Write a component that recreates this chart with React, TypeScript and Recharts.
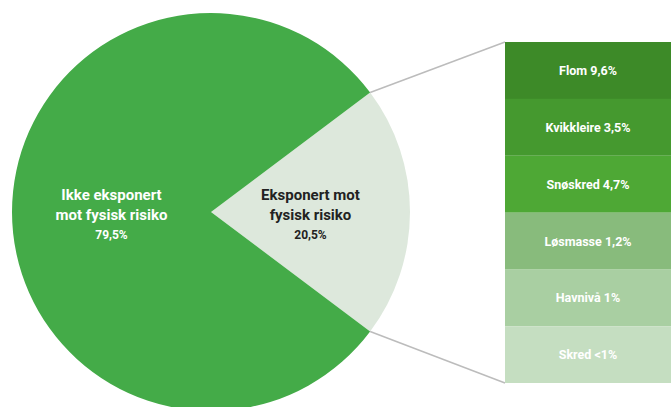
import { Bar, BarChart, Cell, LabelList, Pie, PieChart, XAxis, YAxis } from "recharts"

// pie: share of exposure
const sliceLines = [
  ["Eksponert mot", "fysisk risiko"],
  ["Ikke eksponert", "mot fysisk risiko"],
]
const sliceShares = [20.5, 79.5]
const sliceShareText = ["20,5%", "79,5%"]
const sliceColors = ["#dde8dc", "#44ab48"]
const sliceTextColors = ["#222222", "#ffffff"]

// breakdown of the exposed part (drawn as equal rows)
const hazards = ["Flom", "Kvikkleire", "Snøskred", "Løsmasse", "Havnivå", "Skred"]
const hazardShareText = ["9,6%", "3,5%", "4,7%", "1,2%", "1%", "<1%"]
const hazardColors = ["#3d8a28", "#45992f", "#4ea835", "#88bb7c", "#a9cfa2", "#c5dec1"]

const W = 671
const H = 407
const CX = 211
const CY = 212
const R = 199
const BAR_X = 505
const BAR_Y = 42
const BAR_W = 166
const BAR_H = 341

const FONT = "Roboto, 'Noto Sans', Arial, sans-serif"

const pieData = sliceShares.map((v, i) => ({ name: sliceLines[i].join(" "), value: v }))
const barData = hazards.map((h, i) => ({ name: h, label: `${h} ${hazardShareText[i]}`, row: 1 }))

// exposed slice is centred on 3 o'clock
const half = (sliceShares[0] / 100) * 180
const START = half
const END = half - 360

const renderSliceLabel = (props: any) => {
  const { cx, cy, midAngle, outerRadius, index } = props
  const rad = (-midAngle * Math.PI) / 180
  const x = cx + outerRadius * 0.5 * Math.cos(rad)
  const y = cy + outerRadius * 0.5 * Math.sin(rad)
  const color = sliceTextColors[index]
  return (
    <text x={x} y={y} textAnchor="middle" fill={color} fontFamily={FONT} fontWeight="bold">
      <tspan x={x} y={y - 12} fontSize={15}>{sliceLines[index][0]}</tspan>
      <tspan x={x} y={y + 8} fontSize={15}>{sliceLines[index][1]}</tspan>
      <tspan x={x} y={y + 27} fontSize={12}>{sliceShareText[index]}</tspan>
    </text>
  )
}

const renderRowLabel = (props: any) => {
  const { x, y, width, height, value } = props
  return (
    <text
      x={x + width / 2}
      y={y + height / 2}
      textAnchor="middle"
      dominantBaseline="central"
      fill="#ffffff"
      fontFamily={FONT}
      fontWeight="bold"
      fontSize={12.5}
    >
      {value}
    </text>
  )
}

export default function App() {
  const a = (half * Math.PI) / 180
  const px = CX + R * Math.cos(a)
  const pyTop = CY - R * Math.sin(a)
  const pyBot = CY + R * Math.sin(a)

  return (
    <div style={{ position: "relative", width: W, height: H, overflow: "hidden", background: "#fff" }}>
      <style>{`body{margin:0}`}</style>
      <div style={{ position: "absolute", left: 0, top: 0 }}>
        <PieChart width={W} height={H} margin={{ top: 0, right: 0, bottom: 0, left: 0 }}>
          <Pie
            data={pieData}
            dataKey="value"
            cx={CX}
            cy={CY}
            outerRadius={R}
            startAngle={START}
            endAngle={END}
            stroke="none"
            label={renderSliceLabel}
            labelLine={false}
            isAnimationActive={false}
          >
            {pieData.map((_, i) => (
              <Cell key={i} fill={sliceColors[i]} />
            ))}
          </Pie>
        </PieChart>
      </div>
      <svg style={{ position: "absolute", left: 0, top: 0 }} width={W} height={H}>
        <line x1={px} y1={pyTop} x2={BAR_X} y2={BAR_Y} stroke="#bcbcbc" strokeWidth={1.5} />
        <line x1={px} y1={pyBot} x2={BAR_X} y2={BAR_Y + BAR_H} stroke="#bcbcbc" strokeWidth={1.5} />
      </svg>
      <div style={{ position: "absolute", left: BAR_X, top: BAR_Y }}>
        <BarChart
          width={BAR_W}
          height={BAR_H}
          data={barData}
          layout="vertical"
          barCategoryGap={0}
          margin={{ top: 0, right: 0, bottom: 0, left: 0 }}
        >
          <XAxis type="number" domain={[0, 1]} hide />
          <YAxis type="category" dataKey="name" hide />
          <Bar dataKey="row" isAnimationActive={false}>
            {barData.map((_, i) => (
              <Cell key={i} fill={hazardColors[i]} />
            ))}
            <LabelList dataKey="label" content={renderRowLabel} />
          </Bar>
        </BarChart>
      </div>
    </div>
  )
}
